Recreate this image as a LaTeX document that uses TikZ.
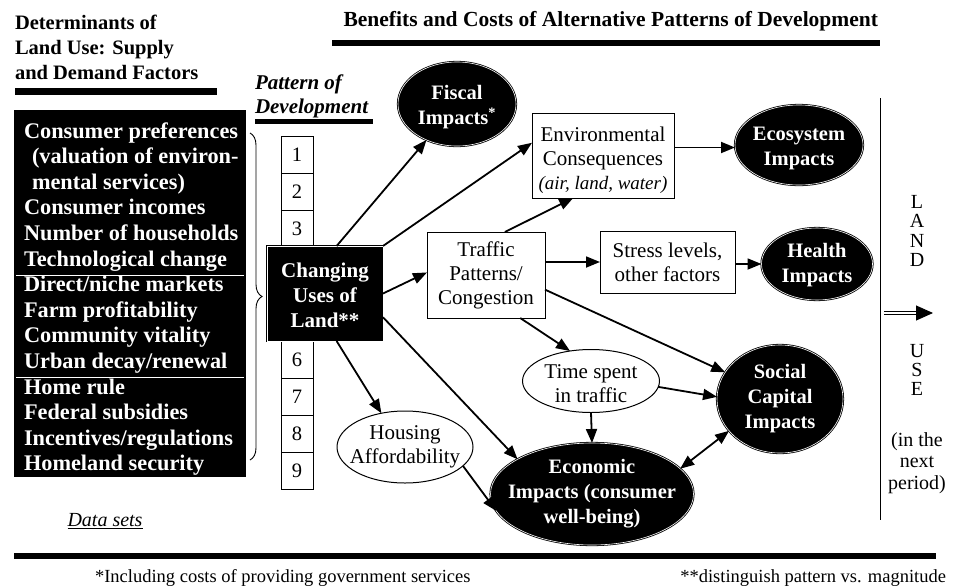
\documentclass[tikz,border=0pt]{standalone}
\usepackage{fontspec}
\setmainfont{Liberation Serif}
\usetikzlibrary{arrows.meta,shapes.geometric,calc,decorations.pathreplacing}
\begin{document}
\begin{tikzpicture}[x=1pt,y=-1pt,
 every node/.style={inner sep=0pt,outer sep=0pt},
 bfont/.style={font=\fontsize{20.5}{25}\selectfont\bfseries},
 rfont/.style={font=\fontsize{21}{24}\selectfont},
 blkell/.style={ellipse,draw=black,line width=0.8pt,double=white,double distance=0.6pt,fill=black},
 blkbox/.style={draw=black,line width=0.8pt,double=white,double distance=0.6pt,fill=black},
 wtxt/.style={bfont,text=white,align=center},
 wbox/.style={draw=black,line width=1pt,fill=white,rfont,align=center},
 wel/.style={ellipse,draw=black,line width=1pt,fill=white},
 rtxt/.style={rfont,align=center},
 numbox/.style={draw=black,line width=1pt,fill=white,minimum width=32,minimum height=37,font=\fontsize{20.5}{24}\selectfont},
 arr/.style={line width=1.8pt,-{Triangle[length=14pt,width=11pt]}},
 darr/.style={line width=1.8pt,{Triangle[length=14pt,width=11pt]}-{Triangle[length=14pt,width=11pt]}},
 ltxt/.style={font=\fontsize{22.3}{25}\selectfont\bfseries,text=white,anchor=base west},
]
\useasboundingbox (0,0) rectangle (953,587);

% ---------- headers
\node[bfont,align=left,anchor=west] (det) at (15,47.5) {Determinants of\\Land Use: Supply\\and Demand Factors};
\draw[line width=7pt] (15,91.5) -- (217,91.5);
\node[font=\fontsize{21}{24}\selectfont\bfseries\itshape,align=left,anchor=west] (pat) at (255,96.5) {Pattern of\\Development};
\draw[line width=4.5pt] (255,121.5) -- (373,121.5);
\node[font=\fontsize{21.5}{25}\selectfont\bfseries,anchor=east] (ben) at (878,21) {Benefits and Costs of Alternative Patterns of Development};
\draw[line width=6pt] (332,43) -- (880,43);

% ---------- left determinants box
\node[fill=black,minimum width=232,minimum height=367,anchor=north west] (dbox) at (14,110) {};
\draw[white,line width=1pt] ($(dbox.north west)+(2,165)$) -- ($(dbox.north east)+(-2,165)$);
\draw[white,line width=1pt] ($(dbox.north west)+(2,267)$) -- ($(dbox.north east)+(-2,267)$);
\node[ltxt] (d1) at (24,138) {Consumer preferences};
\node[ltxt] (d2) at (32,163.6) {(valuation of environ-};
\node[ltxt] (d3) at (32,189.2) {mental services)};
\node[ltxt] (d4) at (24,214.8) {Consumer incomes};
\node[ltxt] (d5) at (24,240.4) {Number of households};
\node[ltxt] (d6) at (24,266) {Technological change};
\node[ltxt] (d7) at (24,291.6) {Direct/niche markets};
\node[ltxt] (d8) at (24,317.2) {Farm profitability};
\node[ltxt] (d9) at (24,342.8) {Community vitality};
\node[ltxt] (d10) at (24,368.4) {Urban decay/renewal};
\node[ltxt] (d11) at (24,394) {Home rule};
\node[ltxt] (d12) at (24,419.6) {Federal subsidies};
\node[ltxt] (d13) at (24,445.2) {Incentives/regulations};
\node[ltxt] (d14) at (24,470.8) {Homeland security};
\node[font=\fontsize{20}{24}\selectfont\itshape] (ds) at (105,521) {\underline{Data sets}};

% brace
\coordinate (brt) at (250,133);
\coordinate (brb) at (250,460);
\draw[line width=0.9pt,decorate,decoration={brace,amplitude=12pt}] (brt) -- (brb);

% ---------- pattern column
\node[numbox] (n1) at (297,154.5) {1};
\node[numbox] (n2) at (297,191.5) {2};
\node[numbox] (n3) at (297,228.5) {3};
\node[numbox] (n6) at (297,359.5) {6};
\node[numbox] (n7) at (297,396.5) {7};
\node[numbox] (n8) at (297,433.5) {8};
\node[numbox] (n9) at (297,470.5) {9};

\node[blkbox,minimum width=116,minimum height=95] (chg) at (325,293.5) {};
\node[wtxt,font=\fontsize{21}{25}\selectfont\bfseries] (chgT) at ($(chg)+(0,1.5)$) {Changing\\Uses of\\Land**};

% ---------- impact nodes
\node[blkell,minimum width=118,minimum height=84] (fis) at (457,104) {};
\node[wtxt] (fisT) at ($(fis)+(0,3.5)$) {Fiscal\\Impacts\textsuperscript{*}};

\node[wbox,minimum width=142,minimum height=85] (env) at (603,155.5) {};
\node[rtxt] (envT) at ($(env)+(0,4.5)$) {Environmental\\Consequences\\{\fontsize{19}{24}\selectfont\itshape (air, land, water)}};

\node[blkell,minimum width=128,minimum height=80] (ecs) at (799,145) {};
\node[wtxt] (ecsT) at ($(ecs)+(0,3.5)$) {Ecosystem\\Impacts};

\node[wbox,minimum width=118,minimum height=86] (trf) at (486,275) {Traffic\\Patterns/\\Congestion};

\node[wbox,minimum width=135,minimum height=62] (str) at (667.5,262) {Stress levels,\\other factors};

\node[blkell,minimum width=111,minimum height=72] (hea) at (817,264) {};
\node[wtxt] (heaT) at ($(hea)+(0,1.5)$) {Health\\Impacts};

\node[wel,minimum width=137,minimum height=63] (tim) at (591,381) {};
\node[rtxt] (timT) at ($(tim)+(0,3)$) {Time spent\\in traffic};

\node[blkell,minimum width=126,minimum height=108] (soc) at (780,399) {};
\node[wtxt] (socT) at (soc) {Social\\Capital\\Impacts};

\node[wel,minimum width=136,minimum height=72] (hou) at (405,447) {};
\node[rtxt] (houT) at (hou) {Housing\\Affordability};

\node[blkell,minimum width=203,minimum height=102] (econ) at (592,494) {};
\node[wtxt] (econT) at (econ) {Economic\\Impacts (consumer\\well-being)};

% ---------- connectors
\draw[arr] ($(chg.north west)!0.6!(chg.north east)$) -- (fis);
\draw[arr] (chg.north east) -- ($(env.north west)!0.35!(env.south west)$);
\draw[arr] (chg.east) -- ($(trf.north west)!0.47!(trf.south west)$);
\draw[arr] ($(chg.east)!0.5!(chg.south east)$) -- (econ.155);
\draw[arr] ($(chg.south west)!0.6!(chg.south east)$) -- (hou.125);
\draw[arr] ($(trf.north west)!0.66!(trf.north east)$) -- ($(env.south west)!0.29!(env.south east)$);
\draw[arr] (trf.east |- str.west) -- (str.west);
\draw[arr] ($(trf.south west)!0.79!(trf.south east)$) -- (tim.125);
\draw[arr] ($(trf.north east)!0.67!(trf.south east)$) -- (soc.154);
\draw[arr] (tim.-5) -- (soc.178);
\draw[arr] (tim.south) -- (econ.north);
\draw[darr] (econ.16) -- (soc.212);
\draw[arr] (hou.-18) -- (econ.190);
\draw[arr] ($(env.east)+(0,-8)$) -- (ecs.west |- 0,147.5);
\draw[arr] (str.east |- hea.west) -- (hea.west);

% ---------- right side: land use
\coordinate (vt) at (880,98);
\coordinate (vb) at (880,520);
\draw[line width=1pt] (vt) -- (vb);
\node[font=\fontsize{20}{19.3}\selectfont,align=center] (land) at (917,231) {L\\A\\N\\D};
\node[font=\fontsize{20}{19.3}\selectfont,align=center] (use) at (917,370) {U\\S\\E};
\node[font=\fontsize{20}{21.5}\selectfont,align=center] (next) at (917,463) {(in the\\next\\period)};
\coordinate (la1) at (884,313);
\coordinate (la2) at (933,313);
\draw[line width=0.9pt,double distance=2.2pt,-{Triangle[length=17pt,width=15pt]}] (la1) -- (la2);

% ---------- footer
\draw[line width=6pt] (14,556) -- (936,556);
\node[font=\fontsize{18.5}{20}\selectfont,anchor=base west] (fn1) at (95,582) {*Including costs of providing government services};
\node[font=\fontsize{18.5}{20}\selectfont,anchor=base east] (fn2) at (946,582) {**distinguish pattern vs. magnitude};
\end{tikzpicture}
\end{document}
